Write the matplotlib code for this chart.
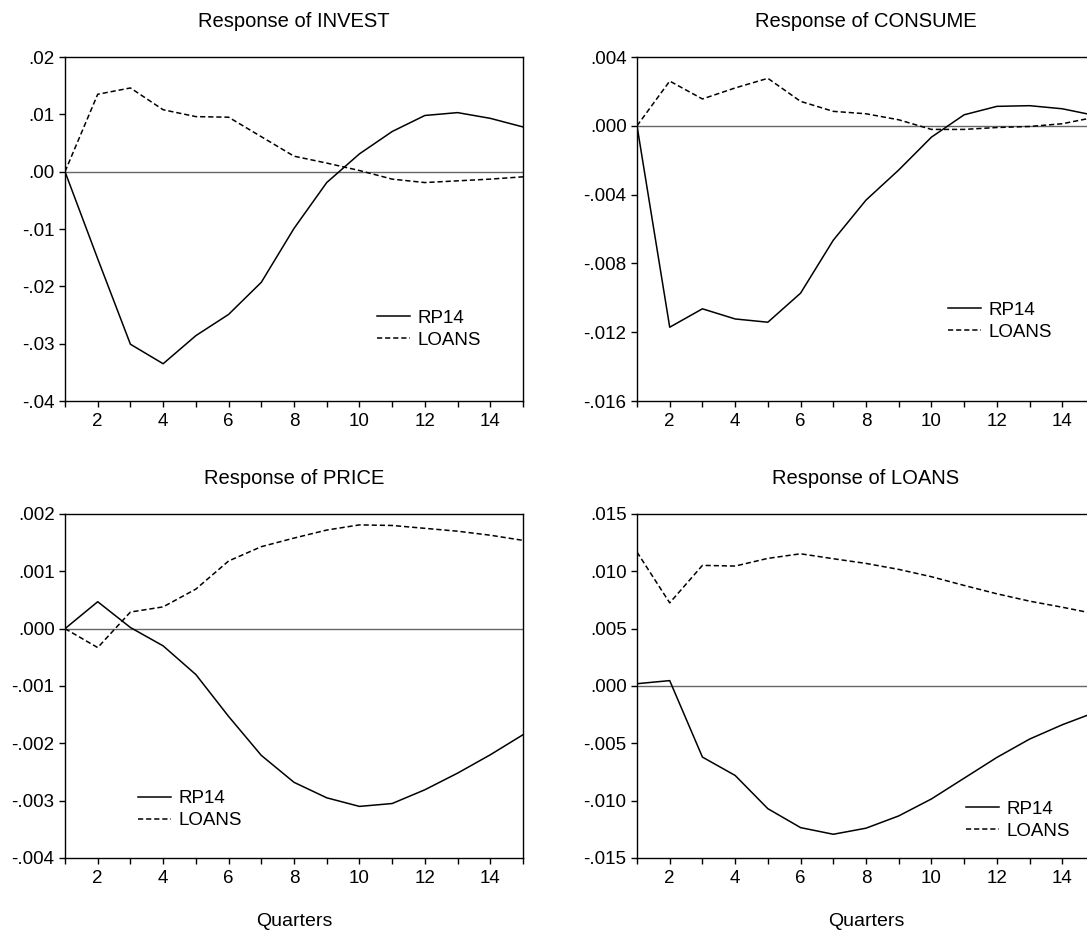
import numpy as np
import matplotlib
matplotlib.use('Agg')
import matplotlib.pyplot as plt
from matplotlib.ticker import FuncFormatter

plt.rcParams['font.family'] = ['Liberation Sans', 'DejaVu Sans']

quarters = np.arange(1, 16)

# impulse responses to shocks in RP14 and LOANS
invest_rp14 = [0.0, -0.0152, -0.0301, -0.0335, -0.0286, -0.0249, -0.0193, -0.0099,
               -0.0019, 0.0031, 0.0070, 0.0098, 0.0103, 0.0093, 0.0078]
invest_loans = [0.0, 0.0135, 0.0146, 0.0108, 0.0096, 0.0095, 0.0061, 0.0027,
                0.0015, 0.0002, -0.0013, -0.0019, -0.0016, -0.0013, -0.0009]

consume_rp14 = [0.0, -0.01171, -0.01064, -0.01123, -0.01142, -0.00973, -0.00665, -0.00432,
                -0.00257, -0.00066, 0.00064, 0.00113, 0.00117, 0.00099, 0.00060]
consume_loans = [0.0, 0.00260, 0.00156, 0.00220, 0.00276, 0.00142, 0.00084, 0.00070,
                 0.00035, -0.00021, -0.00021, -0.00010, -0.00004, 0.00012, 0.00050]

price_rp14 = [0.0, 0.00047, 0.00002, -0.00030, -0.00080, -0.00153, -0.00221, -0.00268,
              -0.00295, -0.00310, -0.00305, -0.00281, -0.00252, -0.00220, -0.00185]
price_loans = [0.0, -0.00033, 0.00029, 0.00038, 0.00069, 0.00118, 0.00143, 0.00158,
               0.00172, 0.00181, 0.00180, 0.00175, 0.00170, 0.00163, 0.00154]

loans_rp14 = [0.0002, 0.00047, -0.0062, -0.0078, -0.0107, -0.01235, -0.01293, -0.0124,
              -0.01133, -0.00985, -0.00804, -0.00623, -0.00463, -0.00338, -0.0023]
loans_loans = [0.01168, 0.00725, 0.01052, 0.01046, 0.01113, 0.01153, 0.0111, 0.01069,
               0.01017, 0.00953, 0.00877, 0.00804, 0.0074, 0.00687, 0.0063]

W, H = 1087, 931
fig = plt.figure(figsize=(W / 100, H / 100), dpi=100)


def pos(left, top, right, bottom):
    return [left / W, 1 - bottom / H, (right - left) / W, (bottom - top) / H]


panels = [
    ('Response of INVEST', invest_rp14, invest_loans, (-0.04, 0.02), 0.01, 2,
     pos(65, 57, 523, 401), (0.681, 0.209), False),
    ('Response of CONSUME', consume_rp14, consume_loans, (-0.016, 0.004), 0.004, 3,
     pos(637, 57, 1095, 401), (0.679, 0.232), False),
    ('Response of PRICE', price_rp14, price_loans, (-0.004, 0.002), 0.001, 3,
     pos(65, 514, 523, 858), (0.159, 0.140), True),
    ('Response of LOANS', loans_rp14, loans_loans, (-0.015, 0.015), 0.005, 3,
     pos(637, 514, 1095, 858), (0.718, 0.110), True),
]


def make_fmt(dec):
    def f(v, p):
        s = f'{v:.{dec}f}'
        if s.startswith('-0'):
            s = '-' + s[2:]
        elif s.startswith('0'):
            s = s[1:]
        return s
    return FuncFormatter(f)


for title, rp, ln, ylim, step, dec, rect, leg, xlab in panels:
    ax = fig.add_axes(rect)
    ax.axhline(0, color='#666666', lw=1.0, zorder=1)
    ax.plot(quarters, rp, color='black', lw=1.1, label='RP14')
    ax.plot(quarters, ln, color='black', lw=1.1, ls=(0, (3.4, 1.9)), label='LOANS')
    ax.set_xlim(1, 15)
    ax.set_ylim(*ylim)
    ax.set_yticks(np.arange(ylim[0], ylim[1] + step / 2, step))
    ax.yaxis.set_major_formatter(make_fmt(dec))
    ax.set_xticks(range(2, 15, 2))
    ax.set_xticks(range(1, 16, 2), minor=True)
    ax.tick_params(axis='both', which='both', direction='out', length=4.5, width=1.0,
                   labelsize=13.5, top=False, right=False)
    ax.tick_params(axis='y', pad=3)
    ax.tick_params(axis='x', pad=4)
    for s in ax.spines.values():
        s.set_linewidth(1.0)
    ax.text(0.5, 1.104, title, transform=ax.transAxes, ha='center', va='center',
            fontsize=14.5)
    if xlab:
        ax.text(0.5, -0.185, 'Quarters', transform=ax.transAxes, ha='center',
                va='center', fontsize=14)
    ax.legend(loc='center left', bbox_to_anchor=leg, frameon=False, fontsize=13.5,
              borderpad=0, borderaxespad=0, handlelength=1.75, handletextpad=0.4,
              labelspacing=0.25)

fig.savefig('out.png', dpi=100)
plt.close()
